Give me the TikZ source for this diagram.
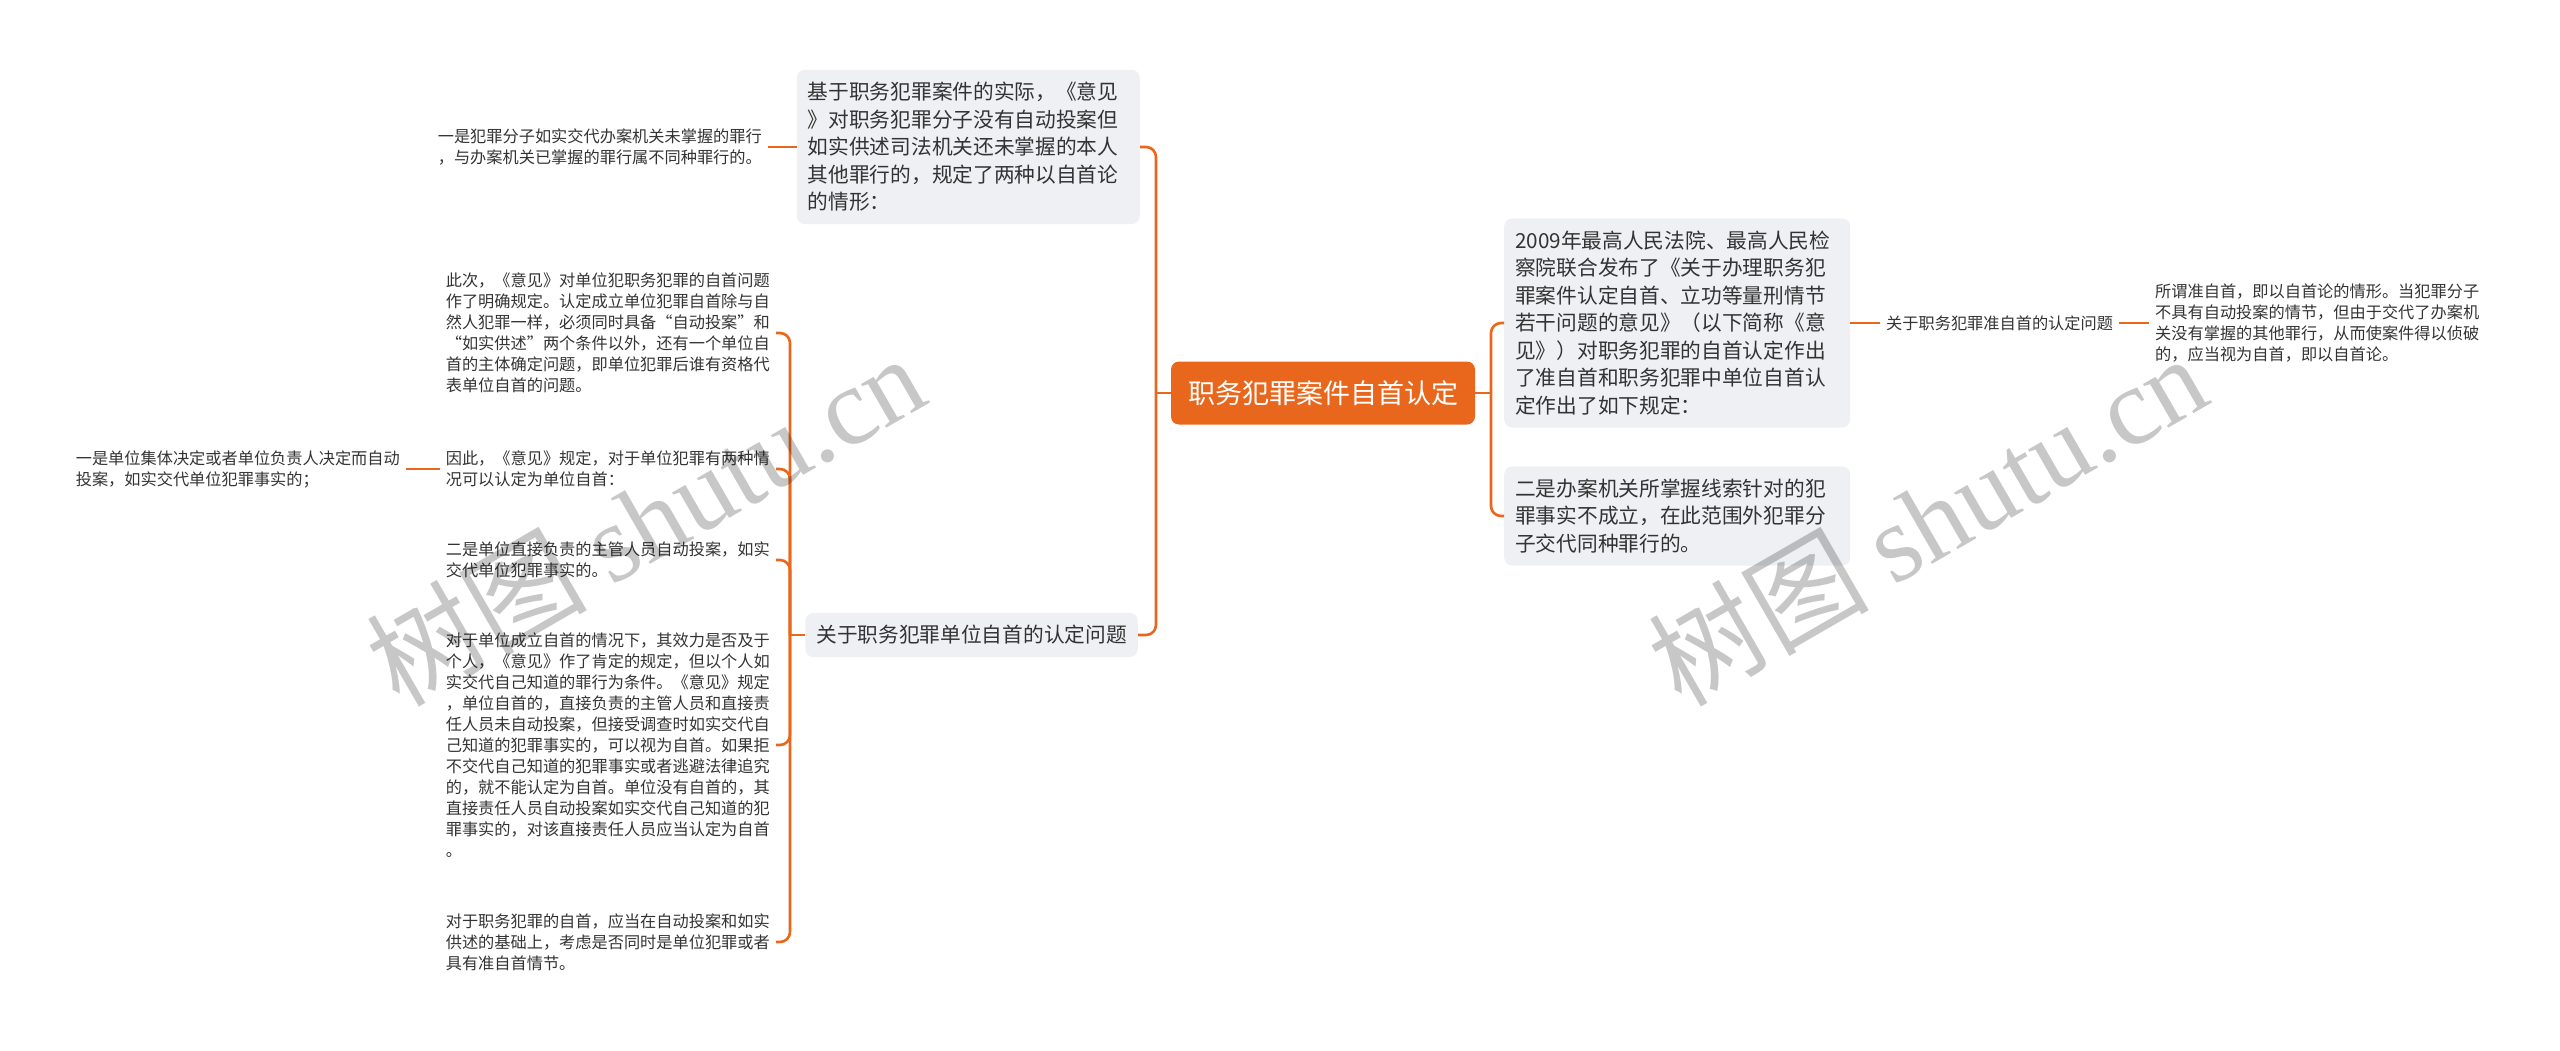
\documentclass[tikz,border=0pt]{standalone}
\usepackage{fontspec}
\usepackage{tikz}
\usetikzlibrary{positioning}
\setmainfont{Noto Sans CJK SC}
\newfontfamily\markfont{Liberation Serif}
\definecolor{mainorange}{HTML}{E8671D}
\definecolor{boxgray}{HTML}{EEF0F3}
\definecolor{textgray}{HTML}{333333}
\tikzset {
  % central topic
  root/.style = {fill=mainorange, text=white, rounded corners=8pt,
    minimum width=304pt, minimum height=63pt, font=\fontsize{27}{32}\selectfont},
  % grey boxes next to the centre
  topic/.style = {fill=boxgray, text=textgray, rounded corners=8pt,
    inner xsep=11pt, inner ysep=12.5pt, align=left, font=\fontsize{20.7}{27.5}\selectfont},
  % plain text leaves
  leaf/.style = {text=textgray, inner xsep=6pt, inner ysep=2pt, align=left,
    font=\fontsize{16.2}{21}\selectfont},
  % orange connectors
  link/.style = {mainorange, line width=2.6pt, rounded corners=10pt},
  % grey watermark
  watermark/.style = {text=black, opacity=0.22, rotate=30, font=\fontsize{110}{110}\selectfont},
}

\begin{document}
\begin{tikzpicture}[x=1pt, y=-1pt]
  \useasboundingbox (0,0) rectangle (2560,1050);

  \node[root] (root) at (1323,393) {职务犯罪案件自首认定};

  % left side
  \node[topic, anchor=east, text width=321pt] (basis) at (1140,147)
    {基于职务犯罪案件的实际，《意见\\》对职务犯罪分子没有自动投案但\\如实供述司法机关还未掌握的本人\\其他罪行的，规定了两种以自首论\\的情形：};
  \node[topic, anchor=east] (unit) at (1138,635) {关于职务犯罪单位自首的认定问题};

  \node[leaf, anchor=east] (first) at (768,147)
    {一是犯罪分子如实交代办案机关未掌握的罪行\\，与办案机关已掌握的罪行属不同种罪行的。};

  \node[leaf, anchor=east] (unit1) at (776,333)
    {此次，《意见》对单位犯职务犯罪的自首问题\\作了明确规定。认定成立单位犯罪自首除与自\\然人犯罪一样，必须同时具备“自动投案”和\\“如实供述”两个条件以外，还有一个单位自\\首的主体确定问题，即单位犯罪后谁有资格代\\表单位自首的问题。};
  \node[leaf, anchor=east] (unit2) at (776,469)
    {因此，《意见》规定，对于单位犯罪有两种情\\况可以认定为单位自首：};
  \node[leaf, anchor=east] (unit2a) at (406,469)
    {一是单位集体决定或者单位负责人决定而自动\\投案，如实交代单位犯罪事实的；};
  \node[leaf, anchor=east] (unit3) at (776,560)
    {二是单位直接负责的主管人员自动投案，如实\\交代单位犯罪事实的。};
  \node[leaf, anchor=east] (unit4) at (776,745)
    {对于单位成立自首的情况下，其效力是否及于\\个人，《意见》作了肯定的规定，但以个人如\\实交代自己知道的罪行为条件。《意见》规定\\，单位自首的，直接负责的主管人员和直接责\\任人员未自动投案，但接受调查时如实交代自\\己知道的犯罪事实的，可以视为自首。如果拒\\不交代自己知道的犯罪事实或者逃避法律追究\\的，就不能认定为自首。单位没有自首的，其\\直接责任人员自动投案如实交代自己知道的犯\\罪事实的，对该直接责任人员应当认定为自首\\。};
  \node[leaf, anchor=east] (unit5) at (776,942)
    {对于职务犯罪的自首，应当在自动投案和如实\\供述的基础上，考虑是否同时是单位犯罪或者\\具有准自首情节。};

  % right side
  \node[topic, anchor=west, text width=324pt] (opinion) at (1504,323)
    {2009年最高人民法院、最高人民检\\察院联合发布了《关于办理职务犯\\罪案件认定自首、立功等量刑情节\\若干问题的意见》（以下简称《意\\见》）对职务犯罪的自首认定作出\\了准自首和职务犯罪中单位自首认\\定作出了如下规定：};
  \node[topic, anchor=west, text width=324pt] (second) at (1504,516)
    {二是办案机关所掌握线索针对的犯\\罪事实不成立，在此范围外犯罪分\\子交代同种罪行的。};

  \node[leaf, anchor=west] (quasi) at (1880,323) {关于职务犯罪准自首的认定问题};
  \node[leaf, anchor=west] (quasidef) at (2149,323)
    {所谓准自首，即以自首论的情形。当犯罪分子\\不具有自动投案的情节，但由于交代了办案机\\关没有掌握的其他罪行，从而使案件得以侦破\\的，应当视为自首，即以自首论。};

  % trunks
  \coordinate (ltrunk) at (1156,393);
  \coordinate (rtrunk) at (1491,393);
  \coordinate (utrunk) at (790,635);

  \draw[link] (root.west) -- (ltrunk);
  \draw[link] (ltrunk) |- (basis.east);
  \draw[link] (ltrunk) |- (unit.east);
  \draw[link] (root.east) -- (rtrunk);
  \draw[link] (rtrunk) |- (opinion.west);
  \draw[link] (rtrunk) |- (second.west);

  \draw[link] (basis.west) -- (first.east);
  \draw[link] (unit.west) -- (utrunk);
  \draw[link] (utrunk) |- (unit1.east);
  \draw[link] (utrunk) |- (unit2.east);
  \draw[link] (utrunk) |- (unit3.east);
  \draw[link] (utrunk) |- (unit4.east);
  \draw[link] (utrunk) |- (unit5.east);
  \draw[link] (unit2.west) -- (unit2a.east);
  \draw[link] (opinion.east) -- (quasi.west);
  \draw[link] (quasi.east) -- (quasidef.west);

  % watermarks
  \node[watermark] (markleft) at (645,519) {树图 {\markfont shutu.cn}};
  \node[watermark] (markright) at (1927,519) {树图 {\markfont shutu.cn}};
\end{tikzpicture}
\end{document}
